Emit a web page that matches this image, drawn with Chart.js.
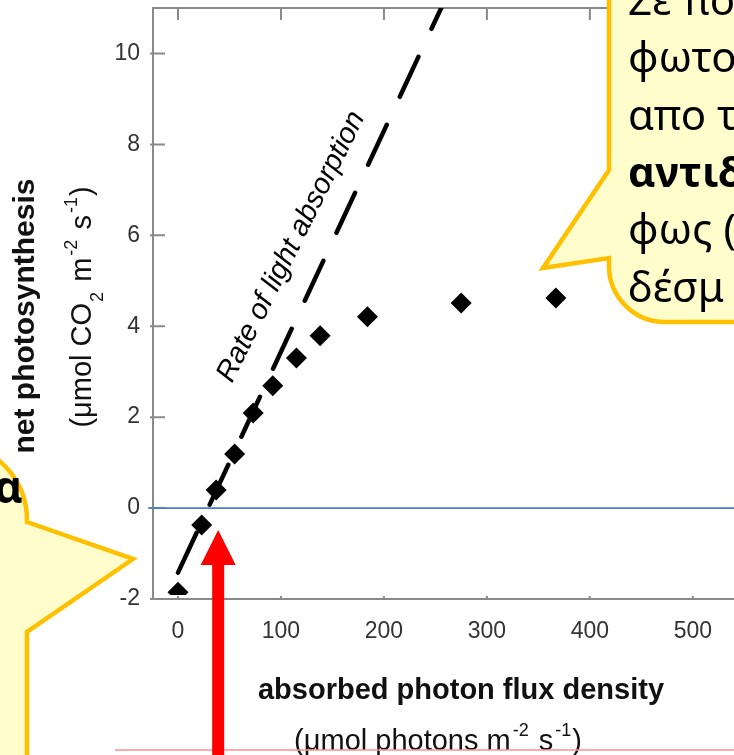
<!DOCTYPE html>
<html>
<head>
<meta charset="utf-8">
<script src="https://cdn.jsdelivr.net/npm/chart.js@4.4.0/dist/chart.umd.min.js"></script>
<style>
  html, body { margin: 0; padding: 0; background: #ffffff; overflow: hidden; }
  canvas { display: block; }
</style>
</head>
<body>
<canvas id="chart" width="734" height="755"></canvas>
<script>
// Axis ticks and visible ranges
const X_TICKS = [0, 100, 200, 300, 400, 500];
const Y_TICKS = [-2, 0, 2, 4, 6, 8, 10];
const X_RANGE = [-24.3, 540];
const Y_RANGE = [-2, 11];

// Measured light-response curve
const PHOTON_FLUX = [0, 23, 37, 55, 73, 92, 115, 138, 184, 275, 367];
const NET_PHOTOSYNTHESIS = [-1.85, -0.37, 0.4, 1.19, 2.09, 2.69, 3.3, 3.79, 4.21, 4.51, 4.62];

// Initial slope: rate of light absorption
const ABSORPTION_FLUX = [0, 262];
const ABSORPTION_RATE = [-1.42, 11.31];

// Zero line of net CO2 exchange
const ZERO_LINE_FLUX = [-29, 540];
const ZERO_LINE_RATE = [0, 0];

// Light compensation point marker and slope label anchor
const COMPENSATION_POINT = [39, -0.48];
const SLOPE_LABEL_AT = [110, 5.75];

// Callout text
const RIGHT_NOTE = ['Σε πο', 'φωτο', 'απο τ', 'αντιδ', 'φως (', 'δέσμ'];
const LEFT_NOTE = ['α'];

const toPoints = (xs, ys) => xs.map((x, i) => ({ x: x, y: ys[i] }));
const SANS = '"Liberation Sans", Arial, Helvetica, sans-serif';
const NOTE_FONT = '"Noto Sans", "Open Sans", sans-serif';

function drawRich(ctx, parts, cx, baseline, size, angle) {
  ctx.save();
  ctx.translate(cx, baseline);
  if (angle) ctx.rotate(angle);
  const small = Math.round(size * 0.62);
  const fontFor = p => ((p.sub || p.sup) ? small : size) + 'px ' + SANS;
  let total = 0;
  const widths = parts.map(p => { ctx.font = fontFor(p); const w = ctx.measureText(p.t).width + (p.gap || 0); total += w; return w; });
  let x = -total / 2;
  ctx.textBaseline = 'alphabetic';
  ctx.textAlign = 'left';
  parts.forEach((p, i) => {
    ctx.font = fontFor(p);
    const dy = p.sub ? size * 0.4 : (p.sup ? -size * 0.47 : 0);
    ctx.fillText(p.t, x + (p.lead || 0), dy);
    x += widths[i];
  });
  ctx.restore();
}

function fixPadding(s) {
  s.paddingLeft = 0; s.paddingRight = 0; s.paddingTop = 0; s.paddingBottom = 0;
}

const framePlugin = {
  id: 'frame',
  beforeDatasetsDraw(chart) {
    const { ctx, chartArea: a, scales: { x, y } } = chart;
    ctx.save();
    ctx.strokeStyle = '#8a8a8a';
    ctx.lineWidth = 2;
    ctx.beginPath();
    ctx.moveTo(a.left - 1, a.top);
    ctx.lineTo(a.right, a.top);
    Y_TICKS.forEach(v => {
      const py = y.getPixelForValue(v);
      ctx.moveTo(a.left - 3, py);
      ctx.lineTo(a.left + 12, py);
    });
    X_TICKS.forEach(v => {
      const px = x.getPixelForValue(v);
      ctx.moveTo(px, a.top);
      ctx.lineTo(px, a.top + 12);
      ctx.moveTo(px, a.bottom);
      ctx.lineTo(px, a.bottom - 3);
    });
    ctx.stroke();
    ctx.restore();
  },
  afterDraw(chart) {
    const { ctx, scales: { x, y } } = chart;
    ctx.save();
    ctx.fillStyle = '#111';

    // Axis titles
    ctx.font = 'bold 29px ' + SANS;
    ctx.textAlign = 'center';
    ctx.textBaseline = 'alphabetic';
    ctx.fillText('absorbed photon flux density', 461, 699);
    drawRich(ctx, [
      { t: '(μmol photons m' }, { t: '-2', sup: true, lead: 2, gap: 4 }, { t: ' s' }, { t: '-1', sup: true, lead: 2, gap: 3 }, { t: ')' }
    ], 438, 750, 29, 0);

    ctx.save();
    ctx.translate(34, 316);
    ctx.rotate(-Math.PI / 2);
    ctx.font = 'bold 30px ' + SANS;
    ctx.textAlign = 'center';
    ctx.fillText('net photosynthesis', 0, 0);
    ctx.restore();
    drawRich(ctx, [
      { t: '(μmol CO' }, { t: '2', sub: true, lead: 1, gap: 3 }, { t: ' m' }, { t: '-2', sup: true, lead: 2, gap: 4 }, { t: ' s' }, { t: '-1', sup: true, lead: 2, gap: 3 }, { t: ')' }
    ], 91, 307, 29, -Math.PI / 2);
    ctx.restore();

    // Slope label along the dashed line
    ctx.save();
    ctx.translate(x.getPixelForValue(SLOPE_LABEL_AT[0]), y.getPixelForValue(SLOPE_LABEL_AT[1]));
    ctx.rotate(-63.5 * Math.PI / 180);
    ctx.font = 'italic 29px ' + SANS;
    ctx.fillStyle = '#000';
    ctx.textAlign = 'center';
    ctx.textBaseline = 'middle';
    ctx.fillText('Rate of light absorption', 0, 0);
    ctx.restore();

    // Thin rose rule along the bottom edge
    ctx.save();
    ctx.strokeStyle = '#ff8f8f';
    ctx.lineWidth = 1.5;
    ctx.beginPath();
    ctx.moveTo(115, 750);
    ctx.lineTo(734, 750);
    ctx.stroke();
    ctx.restore();

    // Red arrow pointing up at the compensation point
    const tx = x.getPixelForValue(COMPENSATION_POINT[0]);
    const ty = y.getPixelForValue(COMPENSATION_POINT[1]);
    ctx.save();
    ctx.fillStyle = '#ff0000';
    ctx.beginPath();
    ctx.moveTo(tx, ty);
    ctx.lineTo(tx + 17.5, ty + 35);
    ctx.lineTo(tx + 6, ty + 35);
    ctx.lineTo(tx + 6, 760);
    ctx.lineTo(tx - 6, 760);
    ctx.lineTo(tx - 6, ty + 35);
    ctx.lineTo(tx - 17.5, ty + 35);
    ctx.closePath();
    ctx.fill();
    ctx.restore();

    // Callouts
    ctx.save();
    ctx.fillStyle = '#fffdcc';
    ctx.strokeStyle = '#ffc000';
    ctx.lineWidth = 4.5;
    ctx.lineJoin = 'miter';

    ctx.beginPath();
    ctx.moveTo(-30, 444);
    ctx.arc(-50, 520, 77, -1.3, 0);
    ctx.lineTo(27, 522);
    ctx.lineTo(133, 559);
    ctx.lineTo(27, 632);
    ctx.lineTo(27, 770);
    ctx.lineTo(-30, 770);
    ctx.closePath();
    ctx.fill();
    ctx.stroke();

    ctx.beginPath();
    ctx.moveTo(609, -10);
    ctx.lineTo(609, 170);
    ctx.lineTo(543, 268);
    ctx.lineTo(609, 258);
    ctx.arcTo(609, 322, 670, 322, 56);
    ctx.lineTo(760, 322);
    ctx.lineTo(760, -10);
    ctx.closePath();
    ctx.fill();
    ctx.stroke();

    ctx.fillStyle = '#000';
    ctx.textAlign = 'left';
    ctx.textBaseline = 'alphabetic';
    RIGHT_NOTE.forEach((line, i) => {
      ctx.font = (i === 3 ? 'bold ' : '') + '42px ' + NOTE_FONT;
      ctx.fillText(line, 628, 15 + i * 57.3);
    });
    ctx.font = 'bold 44px ' + NOTE_FONT;
    ctx.fillText(LEFT_NOTE[0], -6, 503);
    ctx.restore();
  }
};

new Chart(document.getElementById('chart'), {
  type: 'scatter',
  data: {
    datasets: [
      {
        type: 'line',
        label: 'zero',
        data: toPoints(ZERO_LINE_FLUX, ZERO_LINE_RATE),
        borderColor: '#4a7ebb',
        borderWidth: 1.6,
        pointRadius: 0,
        clip: false,
        order: 3
      },
      {
        type: 'line',
        label: 'Rate of light absorption',
        data: toPoints(ABSORPTION_FLUX, ABSORPTION_RATE),
        borderColor: '#000000',
        borderWidth: 4.5,
        borderDash: [44, 31],
        borderCapStyle: 'round',
        pointRadius: 0,
        order: 2
      },
      {
        label: 'net photosynthesis',
        data: toPoints(PHOTON_FLUX, NET_PHOTOSYNTHESIS),
        pointStyle: 'rectRot',
        pointRadius: 10.5,
        backgroundColor: '#000000',
        borderColor: '#000000',
        borderWidth: 0,
        clip: { left: 0, top: 0, right: 0, bottom: -4 },
        order: 1
      }
    ]
  },
  options: {
    responsive: false,
    animation: false,
    devicePixelRatio: 1,
    layout: { autoPadding: false, padding: { top: 8, right: 0, bottom: 0, left: 0 } },
    plugins: { legend: { display: false }, tooltip: { enabled: false } },
    scales: {
      x: {
        type: 'linear',
        min: X_RANGE[0],
        max: X_RANGE[1],
        afterFit: s => { s.height = 156; fixPadding(s); },
        afterBuildTicks: s => { s.ticks = X_TICKS.map(v => ({ value: v })); },
        grid: { display: false, drawTicks: false },
        border: { display: true, color: '#8a8a8a', width: 2 },
        ticks: { padding: 19, color: '#333333', font: { family: SANS, size: 23 }, maxRotation: 0 }
      },
      y: {
        type: 'linear',
        min: Y_RANGE[0],
        max: Y_RANGE[1],
        afterFit: s => { s.width = 153; fixPadding(s); },
        afterBuildTicks: s => { s.ticks = Y_TICKS.map(v => ({ value: v })); },
        grid: { display: false, drawTicks: false },
        border: { display: true, color: '#8a8a8a', width: 2 },
        ticks: { padding: 13, color: '#333333', font: { family: SANS, size: 23 } }
      }
    }
  },
  plugins: [framePlugin]
});
</script>
</body>
</html>
